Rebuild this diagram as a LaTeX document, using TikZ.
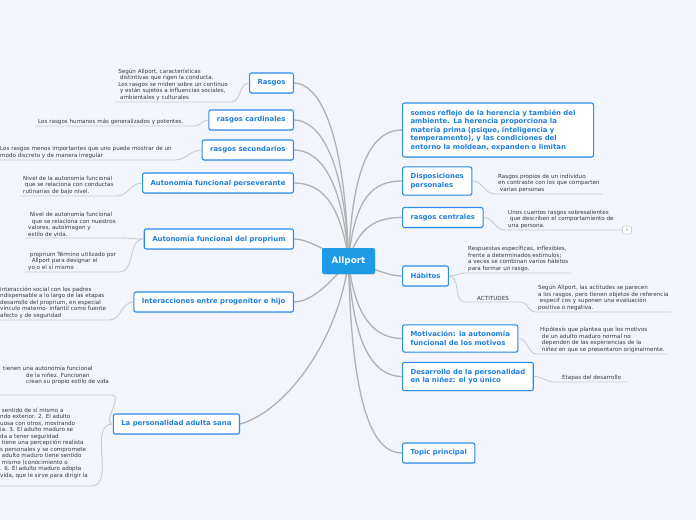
\documentclass[tikz,border=0pt]{standalone}
\usepackage{fontspec}
\setmainfont{DejaVu Sans}
\usepackage{xcolor}
\usetikzlibrary{backgrounds,shadows}

\definecolor{bgpaper}{HTML}{F3F5FD}
\definecolor{topicblue}{HTML}{1F7FDC}
\definecolor{topicedge}{HTML}{2A8CE8}
\definecolor{rootblue}{HTML}{1D9BE6}
\definecolor{branchgray}{HTML}{B2B2B2}
\definecolor{twiggray}{HTML}{C9CCD4}
\definecolor{leaftext}{HTML}{383838}

\begin{document}
\begin{tikzpicture}[
    x=1pt, y=-1pt,
    topic/.style={draw=topicedge, fill=white, rounded corners=2pt, line width=1.1pt,
                  text=topicblue, font=\bfseries\fontsize{6.9}{8.5}\selectfont, align=left,
                  inner xsep=8pt, inner ysep=6.5pt, minimum height=20pt,
                  drop shadow={opacity=0.18, shadow xshift=0.4pt, shadow yshift=-0.8pt}},
    root/.style={fill=rootblue, rounded corners=2pt, text=white,
                 font=\bfseries\fontsize{8.8}{10}\selectfont,
                 minimum width=53pt, minimum height=26pt,
                 drop shadow={opacity=0.18, shadow xshift=0.4pt, shadow yshift=-0.8pt}},
    leaf/.style={text=leaftext, font=\fontsize{5.6}{6.5}\selectfont, align=left,
                 inner xsep=3pt, inner ysep=1.5pt},
    count/.style={draw=twiggray, fill=white, rounded corners=1.5pt, line width=0.6pt,
                  text=gray, font=\fontsize{4.5}{5}\selectfont, inner sep=0pt,
                  minimum width=9pt, minimum height=8pt},
    branch/.style={draw=branchgray, line width=1.3pt},
    twig/.style={draw=twiggray, line width=0.9pt}
  ]
  \useasboundingbox (0,0) rectangle (696,520);

  % centre
  \node[root] (root) at (348.5,261) {Allport};

  % left topics
  \node[topic, anchor=east] (rasgos) at (294,83) {Rasgos};
  \node[topic, anchor=east] (cardinales) at (294,120) {rasgos cardinales};
  \node[topic, anchor=east] (secundarios) at (294,150) {rasgos secundarios};
  \node[topic, anchor=east] (perseverante) at (294,183) {Autonomía funcional perseverante};
  \node[topic, anchor=east] (proprium) at (294,239) {Autonomía funcional del proprium};
  \node[topic, anchor=east] (interacciones) at (294,302) {Interacciones entre progenitor e hijo};
  \node[topic, anchor=east] (adulta) at (240,424) {La personalidad adulta sana};

  % right topics
  \node[topic, anchor=west, text width=175pt] (reflejo) at (402,130) {somos reflejo de la herencia y también del\\
    ambiente. La herencia proporciona la\\materia prima (psique, inteligencia y\\
    temperamento), y las condiciones del\\entorno la moldean, expanden o limitan};
  \node[topic, anchor=west] (disposiciones) at (402,181) {Disposiciones\\personales};
  \node[topic, anchor=west] (centrales) at (402,217.5) {rasgos centrales};
  \node[topic, anchor=west] (habitos) at (402,276) {Hábitos};
  \node[topic, anchor=west] (motivacion) at (402,338.5) {Motivación: la autonomía\\funcional de los motivos};
  \node[topic, anchor=west] (desarrollo) at (402,376.5) {Desarrollo de la personalidad\\en la niñez: el yo único};
  \node[topic, anchor=west] (topic) at (402,453) {Topic principal};

  % left leaves
  \node[leaf, anchor=south east] (lrasgos) at (231,102) {Según Allport, características\\
    \ distintivas que rigen la conducta.\\Los rasgos se miden sobre un continuo\\
    \ y están sujetos a influencias sociales,\\\ ambientales y culturales};
  \node[leaf, anchor=south west, inner xsep=3pt] (lcardinales) at (35,126) {Los rasgos humanos más generalizados y potentes.\hspace*{8pt}};
  \node[leaf, anchor=south west] (lsecundarios) at (-3,160) {Los rasgos menos importantes que uno puede mostrar de un\\
    modo discreto y de manera irregular};
  \node[leaf, anchor=south west] (lperseverante) at (20,196) {Nivel de la autonomía funcional\\
    \ que se relaciona con conductas\\rutinarias de bajo nivel.};
  \node[leaf, anchor=south west] (lpropriumA) at (25,238) {\ Nivel de autonomía funcional\\
    \ \ que se relaciona con nuestros\\valores, autoimagen y\\estilo de vida.};
  \node[leaf, anchor=south west] (lpropriumB) at (25,272) {\ proprium Término utilizado por\\
    \ \ Allport para designar el\\yo o el sí mismo};
  \node[leaf, anchor=south west] (linteracciones) at (-3,320) {interacción social con los padres\\
    ndispensable a lo largo de las etapas\\desarrollo del proprium, en especial\\
    vínculo materno- infantil como fuente\\afecto y de seguridad};
  \node[leaf, anchor=south west, text depth=9.5pt] (ladultaA) at (0,395) {tienen una autonomía funcional\\
    \hspace*{23pt}de la niñez. Funcionan\\\hspace*{23pt}crean su propio estilo de vida};
  \node[leaf, anchor=south west, text depth=7pt] (ladultaB) at (-3,486) {\ sentido de sí mismo a\\
    ndo exterior. 2. El adulto\\uosa con otros, mostrando\\ia. 3. El adulto maduro se\\
    da a tener seguridad\\\ tiene una percepción realista\\s personales y se compromete\\
    \ adulto maduro tiene sentido\\\ mismo (conocimiento o\\. 6. El adulto maduro adopta\\
    vida, que le sirve para dirigir la};

  % right leaves
  \node[leaf, anchor=south west] (ldisposiciones) at (495,194) {Rasgos propios de un individuo\\
    en contraste con los que comparten\\\ varias personas};
  \node[leaf, anchor=south west] (lcentrales) at (505,230) {Unos cuantos rasgos sobresalientes\\
    \ que describen el comportamiento de\\una persona.};
  \node[count] (ncount) at (627,230) {1};
  \node[leaf, anchor=south west] (lhabitos) at (465,273) {Respuestas específicas, inflexibles,\\
    frente a determinados estímulos;\\a veces se combinan varios hábitos\\para formar un rasgo.};
  \node[leaf, anchor=south west, inner xsep=12pt] (actitudes) at (465,302) {ACTITUDES};
  \node[leaf, anchor=south west] (lactitudes) at (535,312) {Según Allport, las actitudes se parecen\\
    a los rasgos, pero tienen objetos de referencia\\\ especif cos y suponen una evaluación\\
    positiva o negativa.};
  \node[leaf, anchor=south west] (lmotivacion) at (537,354) {Hipótesis que plantea que los motivos\\
    \ de un adulto maduro normal no\\\ dependen de las experiencias de la\\
    \ niñez en que se presentaron originalmente.};
  \node[leaf, anchor=south west, inner xsep=7pt] (ldesarrollo) at (555,382) {Etapas del desarrollo};

  \begin{scope}[on background layer]
    \fill[bgpaper] (0,0) rectangle (696,520);
    % branches from the centre
    \draw[branch] (root.center) .. controls +(-4,-140) and +(22,0) .. (rasgos.east);
    \draw[branch] (root.center) .. controls +(-4,-110) and +(22,0) .. (cardinales.east);
    \draw[branch] (root.center) .. controls +(-6,-85) and +(24,0) .. (secundarios.east);
    \draw[branch] (root.center) .. controls +(-8,-60) and +(26,0) .. (perseverante.east);
    \draw[branch] (root.center) .. controls +(-20,-8) and +(15,0) .. (proprium.east);
    \draw[branch] (root.center) .. controls +(-12,15) and +(20,0) .. (interacciones.east);
    \draw[branch] (root.center) .. controls +(-10,80) and +(45,-12) .. (adulta.east);
    \draw[branch] (root.center) .. controls +(4,-105) and +(-26,0) .. (reflejo.west);
    \draw[branch] (root.center) .. controls +(6,-65) and +(-28,0) .. (disposiciones.west);
    \draw[branch] (root.center) .. controls +(10,-35) and +(-25,0) .. (centrales.west);
    \draw[branch] (root.center) .. controls +(20,5) and +(-15,0) .. (habitos.west);
    \draw[branch] (root.center) .. controls +(6,55) and +(-28,0) .. (motivacion.west);
    \draw[branch] (root.center) .. controls +(4,85) and +(-28,0) .. (desarrollo.west);
    \draw[branch] (root.center) .. controls +(3,150) and +(-28,0) .. (topic.west);
  \end{scope}

  % leaf lines
  \draw[twig] (rasgos.west) to[out=180,in=0] (lrasgos.south east) -- (lrasgos.south west);
  \draw[twig] (cardinales.west) to[out=180,in=0] (lcardinales.south east) -- (lcardinales.south west);
  \draw[twig] (secundarios.west) to[out=180,in=0] (lsecundarios.south east) -- (lsecundarios.south west);
  \draw[twig] (perseverante.west) to[out=180,in=0] (lperseverante.south east) -- (lperseverante.south west);
  \draw[twig] (proprium.west) to[out=180,in=0] (lpropriumA.south east) -- (lpropriumA.south west);
  \draw[twig] (proprium.west) to[out=180,in=0] (lpropriumB.south east) -- (lpropriumB.south west);
  \draw[twig] (interacciones.west) to[out=180,in=0] (linteracciones.south east) -- (linteracciones.south west);
  \draw[twig] (adulta.west) to[out=180,in=0] (ladultaA.south east) -- (ladultaA.south west);
  \draw[twig] (adulta.west) to[out=180,in=0] (ladultaB.south east) -- (ladultaB.south west);
  \draw[twig] (disposiciones.east) to[out=0,in=180] (ldisposiciones.south west) -- (ldisposiciones.south east);
  \draw[twig] (centrales.east) to[out=0,in=180] (lcentrales.south west) -- (ncount.west);
  \draw[twig] (habitos.east) to[out=0,in=180] (lhabitos.south west) -- (lhabitos.south east);
  \draw[twig] (habitos.east) to[out=0,in=180] (actitudes.south west) -- (actitudes.south east);
  \draw[twig] (actitudes.south east) to[out=0,in=180] (lactitudes.south west) -- (lactitudes.south east);
  \draw[twig] (motivacion.east) to[out=0,in=180] (lmotivacion.south west) -- (lmotivacion.south east);
  \draw[twig] (desarrollo.east) to[out=0,in=180] (ldesarrollo.south west) -- (ldesarrollo.south east);
\end{tikzpicture}
\end{document}
